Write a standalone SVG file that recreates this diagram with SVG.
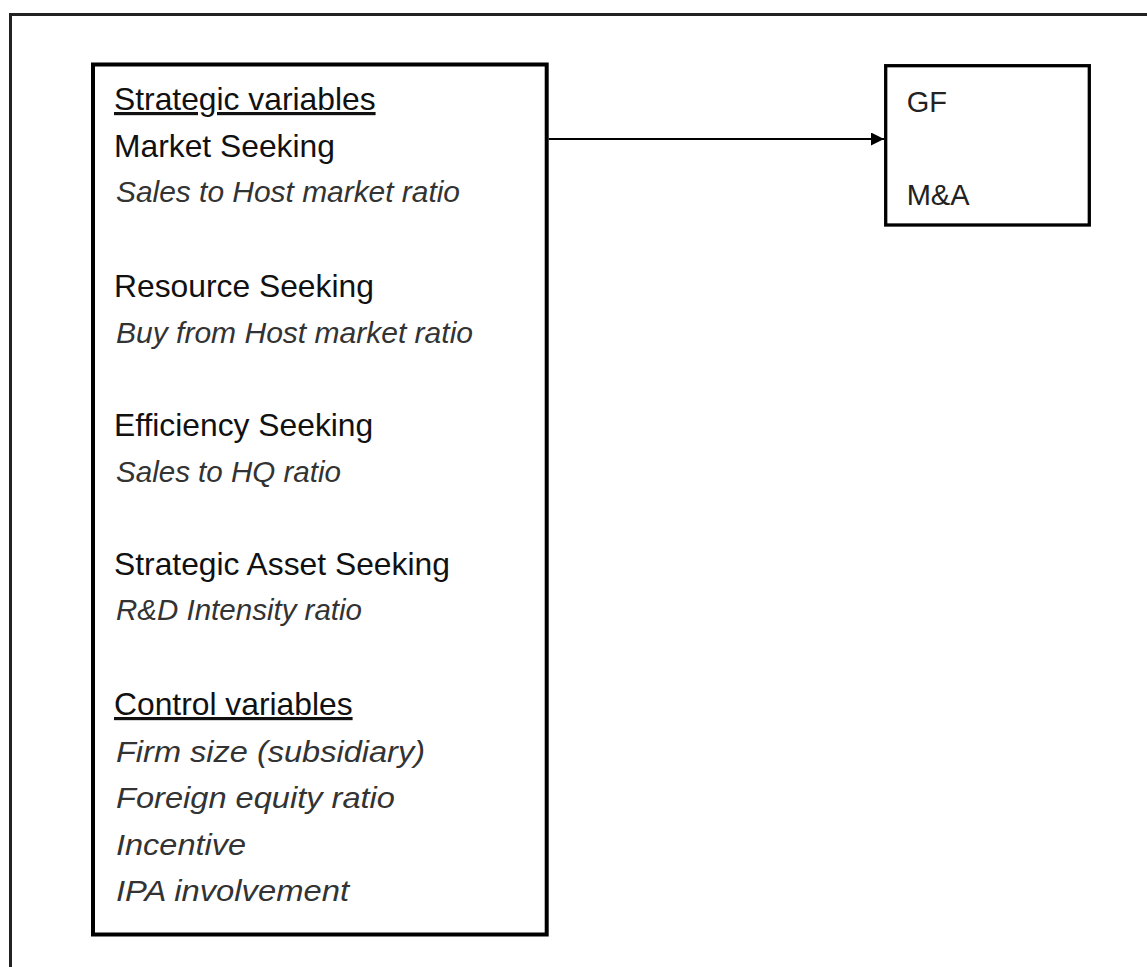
<svg xmlns="http://www.w3.org/2000/svg" width="1147" height="967" viewBox="0 0 1147 967">
<defs>
<marker id="arr" markerWidth="14" markerHeight="13" refX="13" refY="6.5" orient="auto" markerUnits="userSpaceOnUse">
<path d="M0,0 L13,6.5 L0,13 Z" fill="#000"/>
</marker>
<style>
.box{fill:#fff;stroke:#000;}
.h{font-family:"Liberation Sans",Arial,sans-serif;font-size:31.8px;fill:#111;}
.u{text-decoration:underline;}
.i{font-family:"Liberation Sans",Arial,sans-serif;font-size:30px;font-style:italic;fill:#333;}
.s{font-family:"Liberation Sans",Arial,sans-serif;font-size:29px;fill:#222;}
</style>
</defs>
<rect x="0" y="0" width="1147" height="967" fill="#fff"/>
<rect id="frame" x="10.5" y="14.5" width="1200" height="1000" fill="none" stroke="#222" stroke-width="3"/>
<g id="variables">
<rect class="box" x="93" y="64.5" width="453.7" height="870" stroke-width="4"/>
<text class="h u" x="114" y="110">Strategic variables</text>
<text class="h" x="114" y="157">Market Seeking</text>
<text class="i" x="116" y="202" textLength="344" lengthAdjust="spacingAndGlyphs">Sales to Host market ratio</text>
<text class="h" x="114" y="296.5">Resource Seeking</text>
<text class="i" x="116" y="343" textLength="357" lengthAdjust="spacingAndGlyphs">Buy from Host market ratio</text>
<text class="h" x="114" y="435.5">Efficiency Seeking</text>
<text class="i" x="116" y="482" textLength="225" lengthAdjust="spacingAndGlyphs">Sales to HQ ratio</text>
<text class="h" x="114" y="575">Strategic Asset Seeking</text>
<text class="i" x="116" y="620" textLength="246" lengthAdjust="spacingAndGlyphs">R&amp;D Intensity ratio</text>
<text class="h u" x="114" y="715">Control variables</text>
<text class="i" x="116" y="761.5" textLength="309" lengthAdjust="spacingAndGlyphs">Firm size (subsidiary)</text>
<text class="i" x="116" y="808" textLength="279" lengthAdjust="spacingAndGlyphs">Foreign equity ratio</text>
<text class="i" x="116" y="854.5" textLength="130" lengthAdjust="spacingAndGlyphs">Incentive</text>
<text class="i" x="116" y="901" textLength="233" lengthAdjust="spacingAndGlyphs">IPA involvement</text>
</g>
<g id="mode">
<rect class="box" x="885.7" y="65.7" width="203.6" height="159.3" stroke-width="3.3"/>
<text class="s" x="906.7" y="111.7">GF</text>
<text class="s" x="906.7" y="205">M&amp;A</text>
</g>
<g id="connectors">
<line x1="548.7" y1="139" x2="884" y2="139" stroke="#000" stroke-width="2" marker-end="url(#arr)"/>
</g>
</svg>
